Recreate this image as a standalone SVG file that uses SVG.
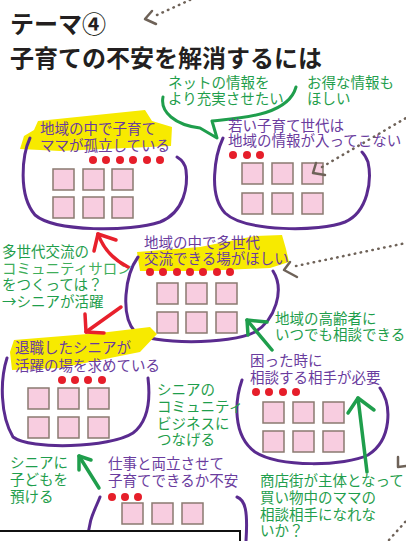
<svg xmlns="http://www.w3.org/2000/svg" width="406" height="541" viewBox="0 0 406 541">
<style>
.t{font-family:"Noto Sans CJK JP","Noto Sans",sans-serif;font-size:14.5px}
.p{fill:#6a3c9e}
.g{fill:#1f9e4c}
.ttl{font-family:"Noto Sans CJK JP","Noto Sans",sans-serif;font-weight:bold;fill:#231f20}
.ol{fill:none;stroke:#5a2b8f;stroke-width:3;stroke-linecap:round;stroke-linejoin:round}
.sq{fill:#f8cde0;stroke:#8a7a70;stroke-width:1.5}
.dot{fill:#e61e2a}
.hl{fill:#f7ea00}
.ga{fill:none;stroke:#1f9e4c;stroke-width:3.5;stroke-linecap:round;stroke-linejoin:round}
.ra{fill:none;stroke:#e8202c;stroke-width:3.5;stroke-linecap:round;stroke-linejoin:round}
.dl{fill:none;stroke:#6e6258;stroke-width:2.5;stroke-linecap:round;stroke-dasharray:0.5 5.5}
.dh{fill:none;stroke:#6e6258;stroke-width:2.5;stroke-linecap:round;stroke-linejoin:round}
</style>
<defs>
<rect id="s" class="sq" width="21" height="21"/>
<circle id="d" class="dot" r="4"/>
</defs>
<rect width="406" height="541" fill="#ffffff"/>

<g id="title">
<text class="ttl" font-size="24"><tspan x="10" y="33">テーマ④</tspan><tspan x="10" y="67">子育ての不安を解消するには</tspan></text>
</g>

<g id="bubble">
<path d="M163,97 C160,112 175,125 200,128 L217,138 L212,121 C240,118 288,116 296,87" fill="none" stroke="#1f9e4c" stroke-width="3" stroke-linecap="round" stroke-linejoin="round"/>
<text class="t g" font-size="14"><tspan x="168" y="88">ネットの情報を</tspan><tspan x="168" y="104">より充実させたい</tspan></text>
<text class="t g"><tspan x="307" y="88">お得な情報も</tspan><tspan x="307" y="104">ほしい</tspan></text>
</g>

<g id="box1">
<polygon class="hl" points="38,121 145,110 152,121 172,127 171,146 60,151 20,149 24,136 34,130"/>
<path class="ol" d="M30,138 C22,155 18,195 35,215 C55,232 130,232 160,222 C185,212 188,185 186,170 C185,163 182,160 177,157"/>
<text class="t p"><tspan x="40" y="134">地域の中で子育て</tspan><tspan x="40" y="151">ママが孤立している</tspan></text>
<use href="#d" x="93" y="160"/><use href="#d" x="106" y="160"/><use href="#d" x="120" y="160"/><use href="#d" x="133" y="160"/><use href="#d" x="147" y="160"/><use href="#d" x="160" y="160"/>
<use href="#s" x="53" y="169"/><use href="#s" x="83" y="169"/><use href="#s" x="112" y="169"/>
<use href="#s" x="53" y="197"/><use href="#s" x="83" y="197"/><use href="#s" x="112" y="197"/>
</g>

<g id="box2">
<path class="ol" d="M223,138 C215,155 208,195 225,213 C245,232 320,232 345,222 C368,212 372,180 368,162 C366,157 364,154 362,152"/>
<text class="t p"><tspan x="228" y="131">若い子育て世代は</tspan><tspan x="228" y="146">地域の情報が入ってこない</tspan></text>
<use href="#d" x="233" y="155"/><use href="#d" x="247" y="155"/><use href="#d" x="260" y="155"/>
<use href="#s" x="242" y="163"/><use href="#s" x="272" y="163"/><use href="#s" x="302" y="163"/>
<use href="#s" x="242" y="193"/><use href="#s" x="272" y="193"/><use href="#s" x="302" y="193"/>
</g>

<g id="box3">
<polygon class="hl" points="137,252 200,247 255,236 282,235 286,249 289,262 270,268 200,271 140,271"/>
<path class="ol" d="M138,257 C125,275 120,315 135,332 C150,345 230,345 255,332 C275,320 285,290 273,271"/>
<text class="t p"><tspan x="144" y="248">地域の中で多世代</tspan><tspan x="144" y="264">交流できる場がほしい</tspan></text>
<use href="#d" x="150" y="272"/><use href="#d" x="163" y="272"/><use href="#d" x="177" y="272"/><use href="#d" x="190" y="272"/><use href="#d" x="203" y="272"/><use href="#d" x="217" y="272"/><use href="#d" x="230" y="272"/>
<use href="#s" x="157" y="283"/><use href="#s" x="186" y="283"/><use href="#s" x="216" y="283"/>
<use href="#s" x="157" y="312"/><use href="#s" x="186" y="312"/><use href="#s" x="216" y="312"/>
</g>

<g id="box4">
<polygon class="hl" points="14,340 100,333 150,327 157,334 140,352 60,368 12,370 10,352"/>
<path class="ol" d="M7,358 C0,380 0,415 13,437 C30,450 110,448 133,433 C150,420 150,395 148,378"/>
<text class="t p"><tspan x="15" y="353">退職したシニアが</tspan><tspan x="15" y="371">活躍の場を求めている</tspan></text>
<use href="#d" x="62" y="380"/><use href="#d" x="75" y="380"/><use href="#d" x="88" y="380"/><use href="#d" x="102" y="380"/>
<use href="#s" x="28" y="388"/><use href="#s" x="58" y="388"/><use href="#s" x="88" y="388"/>
<use href="#s" x="28" y="417"/><use href="#s" x="58" y="417"/><use href="#s" x="88" y="417"/>
</g>

<g id="box5">
<path class="ol" d="M242,380 C235,400 232,435 255,452 C280,468 345,466 368,455 C392,440 392,405 380,388"/>
<text class="t p"><tspan x="250" y="366">困った時に</tspan><tspan x="250" y="383">相談する相手が必要</tspan></text>
<use href="#d" x="256" y="392"/><use href="#d" x="269" y="392"/><use href="#d" x="283" y="392"/><use href="#d" x="296" y="392"/>
<use href="#s" x="263" y="402"/><use href="#s" x="293" y="402"/><use href="#s" x="323" y="402"/>
<use href="#s" x="263" y="431"/><use href="#s" x="293" y="431"/><use href="#s" x="323" y="431"/>
</g>

<g id="box6">
<path class="ol" d="M100,497 C95,510 88,520 88,541"/>
<path class="ol" d="M237,497 C245,500 248,510 246,541"/>
<text class="t p"><tspan x="108" y="469">仕事と両立させて</tspan><tspan x="108" y="486">子育てできるか不安</tspan></text>
<use href="#d" x="112" y="497"/><use href="#d" x="125" y="497"/><use href="#d" x="138" y="497"/>
<use href="#s" x="122" y="503"/><use href="#s" x="152" y="503"/><use href="#s" x="182" y="503"/>
</g>

<g id="note-salon">
<text class="t g" font-size="14"><tspan x="2" y="257">多世代交流の</tspan><tspan x="2" y="274" style="fill:#3fae5a">コミュニティサロン</tspan><tspan x="2" y="290">をつくっては？</tspan><tspan x="2" y="307">→シニアが活躍</tspan></text>
</g>

<g id="note-elderly">
<text class="t g"><tspan x="275" y="324">地域の高齢者に</tspan><tspan x="275" y="340">いつでも相談できる</tspan></text>
</g>

<g id="note-business">
<text class="t g" font-size="14"><tspan x="157" y="395">シニアの</tspan><tspan x="157" y="412">コミュニティ</tspan><tspan x="157" y="429">ビジネスに</tspan><tspan x="157" y="445">つなげる</tspan></text>
</g>

<g id="note-shop">
<text class="t g"><tspan x="260" y="486">商店街が主体となって</tspan><tspan x="260" y="503">買い物中のママの</tspan><tspan x="260" y="520">相談相手になれな</tspan><tspan x="260" y="536">いか？</tspan></text>
</g>

<g id="note-child">
<text class="t g" font-size="14"><tspan x="10" y="468">シニアに</tspan><tspan x="10" y="485">子どもを</tspan><tspan x="10" y="502">預ける</tspan></text>
</g>

<g id="connectors">
<path class="dl" d="M157,15 L192,-1"/>
<path class="dh" d="M152,11 L145,19 L156,24"/>
<path class="dl" d="M322,167 L406,118"/>
<path class="dh" d="M316,163 L313,173 L325,175"/>
<path class="dl" d="M296,266 L406,243"/>
<path class="dh" d="M290,262 L284,270 L297,277"/>
<path class="dh" d="M398,457 L398,467 L406,466"/>
<path class="dl" d="M389,540 L406,521"/>
<path class="ra" d="M128,267 Q106,256 98,234"/>
<path class="ra" d="M94,251 L98,234 L116,240"/>
<path class="ra" d="M121,307 L86,332"/>
<path class="ra" d="M85,314 L86,332 L104,333"/>
<path class="ga" d="M272,350 L247,320"/>
<path class="ga" d="M248,335 L247,320 L267,322"/>
<path class="ga" d="M367,472 L358,398"/>
<path class="ga" d="M348,413 L358,398 L374,410"/>
<path class="ga" d="M99,488 L79,456"/>
<path class="ga" d="M79,470 L79,456 L91,460"/>
</g>

<rect x="-2" y="531" width="242" height="20" fill="#ffffff" stroke="#111111" stroke-width="2"/>
</svg>
